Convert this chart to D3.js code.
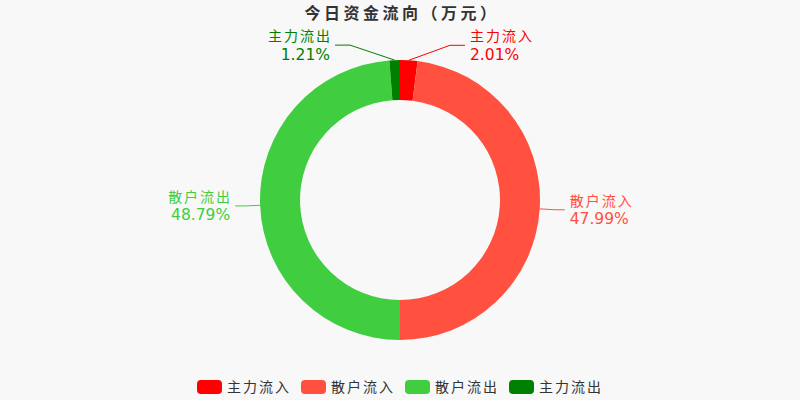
<!DOCTYPE html>
<html>
<head>
<meta charset="utf-8">
<script src="https://cdn.jsdelivr.net/npm/d3@7/dist/d3.min.js"></script>
<style>
  body { margin: 0; background: #f8f8f8; }
  svg { display: block; }
  text { font-family: "DejaVu Sans", "Noto Sans CJK SC", sans-serif; }
</style>
</head>
<body>
<div id="chart"></div>
<script>
// data
var names = ["主力流入", "散户流入", "散户流出", "主力流出"];
var values = [2.01, 47.99, 48.79, 1.21];
var colors = ["#ff0000", "#ff5040", "#40cd40", "#008000"];

var width = 800, height = 400;
var cx = 400, cy = 200;
var outerR = 140, innerR = 100;

var svg = d3.select("#chart")
	.append("svg")
	.attr("width", width)
	.attr("height", height);

svg.append("rect")
	.attr("width", width)
	.attr("height", height)
	.attr("fill", "#f8f8f8");

// title
svg.append("text")
	.text("今日资金流向（万元）")
	.attr("x", cx + 2)
	.attr("y", 19)
	.attr("text-anchor", "middle")
	.style("font-size", "16px")
	.style("font-weight", "bold")
	.style("letter-spacing", "3.5px")
	.attr("fill", "#333");

var data = names.map(function(n, i) { return { name: n, value: values[i], color: colors[i] }; });

var pie = d3.pie()
	.value(function(d) { return d.value; })
	.sort(null);

var arc = d3.arc()
	.innerRadius(innerR)
	.outerRadius(outerR);

var g = svg.append("g")
	.attr("transform", "translate(" + cx + "," + cy + ")");

var arcs = pie(data);

g.selectAll(".slice")
	.data(arcs)
	.enter().append("path")
	.attr("class", "slice")
	.attr("d", arc)
	.attr("fill", function(d) { return d.data.color; });

// labels with two-segment guide lines
var len1 = 15;
arcs.forEach(function(d) {
	var mid = (d.startAngle + d.endAngle) / 2;
	var s = Math.sin(mid), c = Math.cos(mid);
	var side = s >= 0 ? 1 : -1;
	var p0 = [outerR * s, -outerR * c];
	var r2 = outerR + len1;
	// keep labels of thin top slices away from the centre line
	var ex = side * Math.max(Math.abs(r2 * s), 50);
	var len2 = Math.abs(s) > 0.5 ? 10 : 15;
	var p1 = [ex, -r2 * c];
	var p2 = [ex + side * len2, p1[1]];

	g.append("polyline")
		.attr("points", [p0, p1, p2].map(function(p) { return p.join(","); }).join(" "))
		.attr("fill", "none")
		.attr("stroke", d.data.color)
		.attr("stroke-width", 1);

	var tx = p2[0] + side * (side > 0 ? 5 : 3);
	var anchor = side > 0 ? "start" : "end";
	g.append("text")
		.text(d.data.name)
		.attr("x", tx)
		.attr("y", p2[1] - 4)
		.attr("text-anchor", anchor)
		.style("font-size", "14px")
		.style("letter-spacing", "2px")
		.attr("fill", d.data.color);
	g.append("text")
		.text(d.data.value.toFixed(2) + "%")
		.attr("x", side > 0 ? tx : tx - 2)
		.attr("y", p2[1] + 14.5)
		.attr("text-anchor", anchor)
		.style("font-size", "15.5px")
		.attr("fill", d.data.color);
});

// legend
var legend = svg.append("g");
var xpos = 0;
data.forEach(function(d) {
	var item = legend.append("g").attr("transform", "translate(" + xpos + ",0)");
	item.append("rect")
		.attr("x", 0)
		.attr("y", 380)
		.attr("width", 25)
		.attr("height", 14)
		.attr("rx", 4)
		.attr("fill", d.color);
	var t = item.append("text")
		.text(d.name)
		.attr("x", 30)
		.attr("y", 392)
		.style("font-size", "14px")
		.style("letter-spacing", "2px")
		.attr("fill", "#333");
	xpos += 30 + t.node().getComputedTextLength() + 10;
});
var total = xpos - 10;
legend.attr("transform", "translate(" + (cx - total / 2) + ",0)");
</script>
</body>
</html>
